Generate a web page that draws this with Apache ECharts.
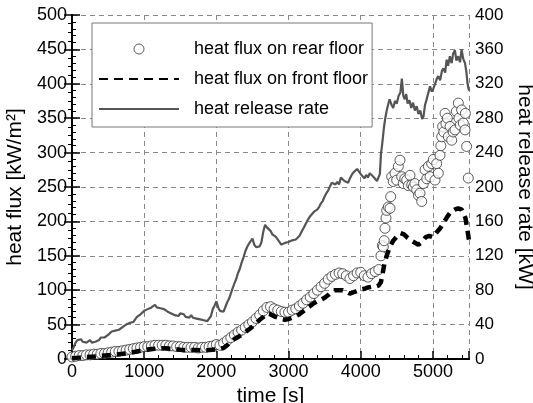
<!DOCTYPE html>
<html lang="en">
<head>
    <meta charset="UTF-8">
    <title>heat flux</title>
    <script src="https://cdn.jsdelivr.net/npm/echarts@6/dist/echarts.min.js"></script>
    <style>
        body { margin: 0; background: #fff; }
        #main { width: 533px; height: 403px; }
    </style>
</head>
<body>
<div id="main"></div>
<script>
    // heat release rate [kW], right axis : [time, value]
    var hrr = [[0,10],[25,14],[50,19],[75,22],[100,21],[125,23],[150,20],[175,18],[200,19],[225,21],[250,22],[275,19],[300,18],[325,20],[350,19],[375,22],[400,25],[425,23],[450,25],[475,27],[500,28],[525,30],[550,32],[575,30],[600,33],[625,35],[650,34],[675,36],[700,37],[725,36],[750,40],[775,41],[800,42],[825,44],[850,43],[875,46],[900,49],[925,48],[950,52],[975,53],[1000,56],[1025,55],[1050,58],[1075,57],[1100,60],[1125,61],[1150,63],[1175,60],[1200,62],[1225,59],[1250,61],[1275,58],[1300,57],[1325,55],[1350,56],[1375,53],[1400,54],[1425,51],[1450,53],[1475,50],[1500,53],[1525,51],[1550,52],[1575,49],[1600,50],[1625,48],[1650,51],[1675,48],[1700,50],[1725,47],[1750,49],[1775,46],[1800,48],[1825,45],[1850,47],[1875,44],[1900,46],[1925,50],[1950,58],[1975,62],[2000,67],[2025,60],[2050,56],[2075,54],[2100,55],[2125,56],[2150,66],[2175,70],[2200,76],[2225,82],[2250,88],[2275,93],[2300,100],[2325,105],[2350,112],[2375,118],[2400,125],[2425,130],[2450,134],[2475,137],[2500,140],[2525,133],[2550,130],[2575,129],[2600,131],[2625,136],[2650,148],[2675,156],[2700,153],[2725,151],[2750,149],[2775,145],[2800,147],[2825,142],[2850,140],[2875,136],[2900,133],[2925,131],[2950,135],[2975,133],[3000,136],[3025,134],[3050,138],[3075,136],[3100,139],[3125,141],[3150,143],[3175,147],[3200,149],[3225,155],[3250,159],[3275,163],[3300,166],[3325,168],[3350,171],[3375,169],[3400,174],[3425,177],[3450,181],[3475,184],[3500,189],[3525,193],[3550,196],[3575,201],[3600,205],[3625,207],[3650,203],[3675,206],[3700,203],[3725,211],[3750,213],[3775,207],[3800,209],[3825,205],[3850,210],[3875,214],[3900,217],[3925,215],[3950,221],[3975,219],[4000,215],[4025,213],[4050,210],[4075,214],[4100,211],[4125,216],[4150,217],[4175,212],[4200,210],[4225,207],[4250,205],[4265,215],[4280,238],[4300,252],[4320,268],[4340,280],[4360,289],[4380,296],[4400,302],[4425,296],[4450,292],[4475,300],[4500,297],[4525,306],[4550,310],[4570,326],[4590,306],[4610,302],[4630,308],[4650,297],[4675,301],[4700,292],[4725,298],[4750,289],[4775,294],[4800,285],[4825,289],[4850,279],[4870,282],[4890,295],[4910,301],[4935,309],[4960,317],[4985,311],[5005,314],[5030,320],[5055,326],[5075,329],[5100,324],[5125,335],[5145,338],[5170,333],[5190,348],[5210,341],[5235,352],[5260,344],[5280,355],[5305,359],[5325,347],[5350,352],[5375,345],[5398,360],[5420,349],[5445,344],[5465,333],[5480,320],[5500,312]];

    // heat flux on front floor [kW/m2]
    var front = [[0,1],[100,2],[200,3],[300,3.5],[400,4.5],[500,5.5],[600,6.5],[700,7.5],[800,9],[900,11],[1000,13],[1100,14.5],[1200,15.5],[1300,15.5],[1400,14.5],[1500,13.5],[1600,13],[1700,13],[1800,12.5],[1900,13],[2000,14],[2100,16],[2150,20],[2200,25],[2250,29],[2300,32],[2350,35],[2400,39],[2450,43],[2500,47],[2550,52],[2600,57],[2650,61],[2700,66],[2750,65],[2800,62],[2850,60],[2900,58],[2950,57],[3000,58],[3050,60],[3100,62],[3150,65],[3200,69],[3250,73],[3300,77],[3350,81],[3400,84],[3450,86],[3500,89],[3550,93],[3600,98],[3650,100],[3700,100],[3750,100],[3800,98],[3850,95],[3900,97],[3950,99],[4000,101],[4050,102],[4100,104],[4150,105],[4200,105],[4250,107],[4280,112],[4300,122],[4330,140],[4360,150],[4400,162],[4450,172],[4500,178],[4550,183],[4600,181],[4650,176],[4700,172],[4750,169],[4800,166],[4850,170],[4900,177],[4950,179],[5000,177],[5050,184],[5100,190],[5150,198],[5200,207],[5250,214],[5300,217],[5350,219],[5400,217],[5450,205],[5475,190],[5500,172]];

    // heat flux on rear floor [kW/m2]
    var rear = [[0,3],[50,4],[100,5],[150,5],[200,6],[250,6],[300,7],[350,7],[400,8],[450,8],[500,9],[550,10],[600,11],[650,11],[700,12],[750,13],[800,14],[850,15],[900,16],[950,17],[1000,18],[1050,18],[1100,19],[1150,20],[1200,20],[1250,20],[1300,20],[1350,19],[1400,19],[1450,18],[1500,18],[1550,17],[1600,17],[1650,17],[1700,17],[1750,16],[1800,17],[1850,17],[1900,18],[1950,19],[2000,21],[2050,20],[2100,23],[2150,27],[2200,31],[2250,35],[2300,39],[2350,42],[2400,46],[2450,50],[2500,54],[2550,59],[2600,64],[2650,70],[2700,75],[2750,76],[2800,73],[2850,71],[2900,69],[2950,68],[3000,68],[3050,71],[3100,73],[3150,77],[3200,81],[3250,86],[3300,90],[3350,95],[3400,100],[3450,105],[3500,110],[3550,116],[3600,120],[3650,123],[3700,125],[3750,124],[3800,121],[3850,117],[3900,121],[3950,125],[4000,126],[4050,121],[4100,119],[4150,124],[4200,127],[4250,130],
        [4280,150],[4300,165],[4313,163],[4325,172],[4336,190],[4350,205],[4360,216],[4382,221],[4406,219],[4415,236],[4429,265],[4450,258],[4475,270],[4498,260],[4521,280],[4544,289],[4568,265],[4590,255],[4610,262],[4637,260],[4660,252],[4683,267],[4706,253],[4729,250],[4750,255],[4775,246],[4800,238],[4821,241],[4845,229],[4868,255],[4891,275],[4915,262],[4937,280],[4960,265],[4983,284],[5005,290],[5029,260],[5052,284],[5075,270],[5098,296],[5110,310],[5122,323],[5135,338],[5150,330],[5168,357],[5180,342],[5200,350],[5214,323],[5237,338],[5260,318],[5280,330],[5306,333],[5325,360],[5352,372],[5360,350],[5380,340],[5398,362],[5421,343],[5445,333],[5450,357],[5467,309],[5490,263]];

    var font = 'Liberation Sans, Arial, sans-serif';
    var chart = echarts.init(document.getElementById('main'));

    function plain(v) { return String(v); }

    var option = {
        animation: false,
        textStyle: { fontFamily: font, color: '#000' },
        grid: { left: 72, right: 64, top: 15, bottom: 44, outerBoundsMode: 'none', containLabel: false },
        legend: {
            orient: 'vertical',
            left: 92,
            top: 23,
            padding: [17, 4, 9, 6],
            backgroundColor: '#fff',
            borderColor: '#777',
            borderWidth: 1,
            itemWidth: 80,
            itemHeight: 10,
            itemGap: 12,
            textStyle: { fontFamily: font, fontSize: 18, color: '#000', padding: [0, 0, 0, 10] },
            data: [
                { name: 'heat flux on rear floor', itemStyle: { color: '#fff', borderColor: '#333', borderWidth: 1 } },
                { name: 'heat flux on front floor', itemStyle: { opacity: 0 } },
                { name: 'heat release rate', itemStyle: { opacity: 0 } }
            ]
        },
        xAxis: [{
            type: 'value',
            min: 0,
            max: 5500,
            interval: 1000,
            name: 'time [s]',
            nameLocation: 'middle',
            nameGap: 22,
            nameTextStyle: { fontFamily: font, fontSize: 21, color: '#000' },
            axisLine: { lineStyle: { color: '#000', width: 2 } },
            axisTick: { inside: true, length: 8, lineStyle: { color: '#000', width: 1.5 } },
            minorTick: { show: true, splitNumber: 5, length: 4, lineStyle: { color: '#000' } },
            axisLabel: { fontSize: 18, color: '#000', margin: 4, showMaxLabel: false, formatter: plain },
            splitLine: { show: true, lineStyle: { color: '#888', type: [5, 4], width: 1 } }
        }, {
            type: 'value',
            position: 'top',
            min: 0,
            max: 5500,
            axisLine: { show: true, lineStyle: { color: '#000', width: 2 } },
            axisTick: { show: false },
            axisLabel: { show: false },
            splitLine: { show: false }
        }],
        yAxis: [{
            type: 'value',
            min: 0,
            max: 500,
            interval: 50,
            name: 'heat flux [kW/m²]',
            nameLocation: 'middle',
            nameGap: 42,
            nameTextStyle: { fontFamily: font, fontSize: 21, color: '#000' },
            axisLine: { show: true, lineStyle: { color: '#000', width: 2 } },
            axisTick: { inside: true, length: 8, lineStyle: { color: '#000', width: 1.5 } },
            minorTick: { show: true, splitNumber: 5, length: 4, lineStyle: { color: '#000' } },
            axisLabel: { fontSize: 18, color: '#000', margin: 5, formatter: plain },
            splitLine: { show: true, lineStyle: { color: '#888', type: [5, 4], width: 1 } }
        }, {
            type: 'value',
            position: 'right',
            min: 0,
            max: 400,
            interval: 40,
            name: 'heat release rate [kW]',
            nameLocation: 'middle',
            nameGap: 37,
            nameRotate: -90,
            nameTextStyle: { fontFamily: font, fontSize: 21, color: '#000' },
            axisLine: { show: true, lineStyle: { color: '#000', width: 2 } },
            axisTick: { inside: true, length: 8, lineStyle: { color: '#000', width: 1.5 } },
            minorTick: { show: true, splitNumber: 4, length: 4, lineStyle: { color: '#000' } },
            axisLabel: { fontSize: 17, color: '#000', margin: 6, formatter: plain },
            splitLine: { show: false }
        }],
        series: [{
            name: 'heat flux on rear floor',
            type: 'scatter',
            yAxisIndex: 0,
            symbol: 'circle',
            symbolSize: 10,
            itemStyle: { color: '#fff', borderColor: '#333', borderWidth: 1 },
            data: rear
        }, {
            name: 'heat flux on front floor',
            type: 'line',
            yAxisIndex: 0,
            symbol: 'none',
            lineStyle: { color: '#000', width: 4.5, type: [9, 6] },
            itemStyle: { color: '#000' },
            data: front
        }, {
            name: 'heat release rate',
            type: 'line',
            yAxisIndex: 1,
            symbol: 'none',
            lineStyle: { color: '#555', width: 2.2 },
            itemStyle: { color: '#555' },
            data: hrr
        }]
    };
    chart.setOption(option);
</script>
</body>
</html>
